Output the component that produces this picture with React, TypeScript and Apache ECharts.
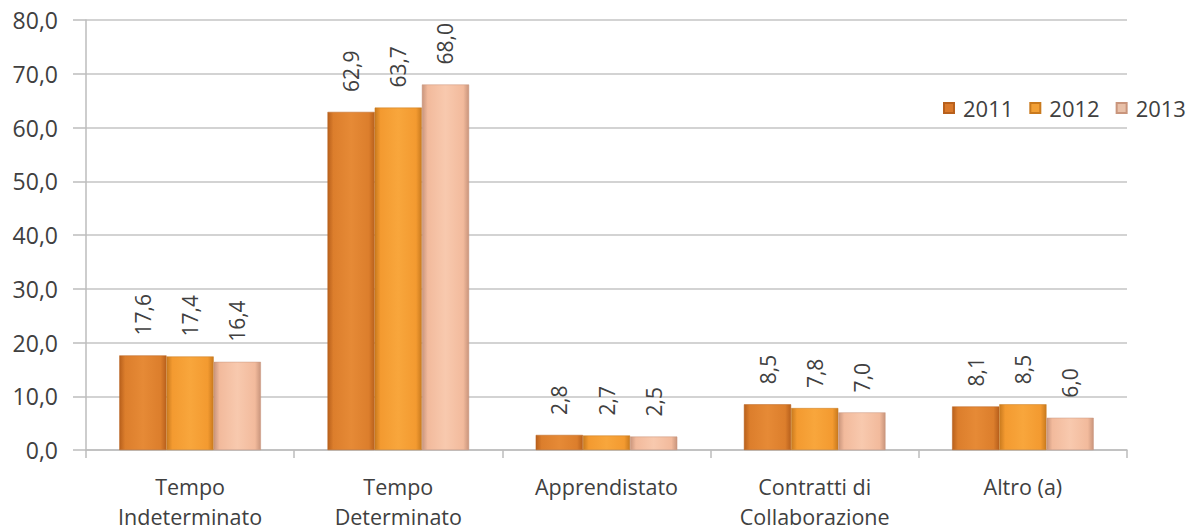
import React, { useEffect, useRef } from "react";
import * as echarts from "echarts";

const categories = [
  "Tempo\nIndeterminato",
  "Tempo\nDeterminato",
  "Apprendistato",
  "Contratti di\nCollaborazione",
  "Altro (a)",
];
const years = ["2011", "2012", "2013"];
const values2011 = [17.6, 62.9, 2.8, 8.5, 8.1];
const values2012 = [17.4, 63.7, 2.7, 7.8, 8.5];
const values2013 = [16.4, 68.0, 2.5, 7.0, 6.0];
const yTicks = [0, 10, 20, 30, 40, 50, 60, 70, 80];

const FONT = "'Open Sans', 'Liberation Sans', sans-serif";
const TEXT = "#404040";

const grad = (edge: string, mid: string, light: string) =>
  new echarts.graphic.LinearGradient(0, 0, 1, 0, [
    { offset: 0, color: edge },
    { offset: 0.12, color: mid },
    { offset: 0.5, color: light },
    { offset: 0.88, color: mid },
    { offset: 1, color: edge },
  ]);

const palettes = [
  { edge: "#B8601C", mid: "#DC7E2C", light: "#E68A36", legend: "#D9782A" },
  { edge: "#C97A1E", mid: "#F39A30", light: "#F8A63C", legend: "#F2A036" },
  { edge: "#C9957C", mid: "#F2BA9C", light: "#F8C9AE", legend: "#E8C0A8" },
];

export default function App() {
  const ref = useRef<HTMLDivElement>(null);
  useEffect(() => {
    if (!ref.current) return;
    document.body.style.margin = "0";
    const chart = echarts.init(ref.current, undefined, { renderer: "svg" });
    const data = [values2011, values2012, values2013];
    chart.setOption({
      animation: false,
      backgroundColor: "#ffffff",
      textStyle: { fontFamily: FONT },
      grid: {
        left: 86,
        right: 73,
        top: 20,
        bottom: 79,
        containLabel: false,
        outerBoundsMode: "none",
      },
      legend: {
        data: years.map((y, i) => ({
          name: y,
          itemStyle: { color: palettes[i].legend },
        })),
        left: 938,
        top: 92,
        itemWidth: 10,
        itemHeight: 10,
        itemGap: 16,
        icon: "rect",
        textStyle: { fontSize: 22, color: TEXT, fontFamily: FONT, padding: [0, 0, 0, 4] },
      },
      xAxis: {
        type: "category",
        data: categories,
        axisLine: { lineStyle: { color: "#bdbdbd", width: 1.5 } },
        axisTick: { show: true, length: 8, lineStyle: { color: "#bdbdbd", width: 1.5 } },
        axisLabel: {
          fontSize: 21.5,
          color: TEXT,
          fontFamily: FONT,
          lineHeight: 30,
          margin: 21,
          interval: 0,
        },
      },
      yAxis: {
        type: "value",
        min: 0,
        max: 80,
        interval: 10,
        axisLine: { show: true, lineStyle: { color: "#bdbdbd", width: 1.5 } },
        axisTick: { show: true, inside: false, length: 13, lineStyle: { color: "#bdbdbd", width: 1.5 } },
        splitLine: { lineStyle: { color: "#c4c4c4", width: 1.5 } },
        axisLabel: {
          fontSize: 23,
          color: TEXT,
          fontFamily: FONT,
          margin: 28,
          formatter: (v: number) => (yTicks.includes(v) ? v.toFixed(1).replace(".", ",") : ""),
        },
      },
      series: years.map((y, i) => ({
        name: y,
        type: "bar",
        data: data[i],
        barGap: "0%",
        barCategoryGap: "32%",
        itemStyle: {
          color: grad(palettes[i].edge, palettes[i].mid, palettes[i].light),
          borderColor: palettes[i].edge,
          borderWidth: 0.5,
        },
        label: {
          show: true,
          position: "top",
          rotate: 90,
          align: "left",
          verticalAlign: "middle",
          distance: 20,
          fontSize: 21,
          color: TEXT,
          fontFamily: FONT,
          formatter: (p: any) => Number(p.value).toFixed(1).replace(".", ","),
        },
      })),
    });
    return () => chart.dispose();
  }, []);
  return <div ref={ref} style={{ width: 1200, height: 529 }} />;
}
